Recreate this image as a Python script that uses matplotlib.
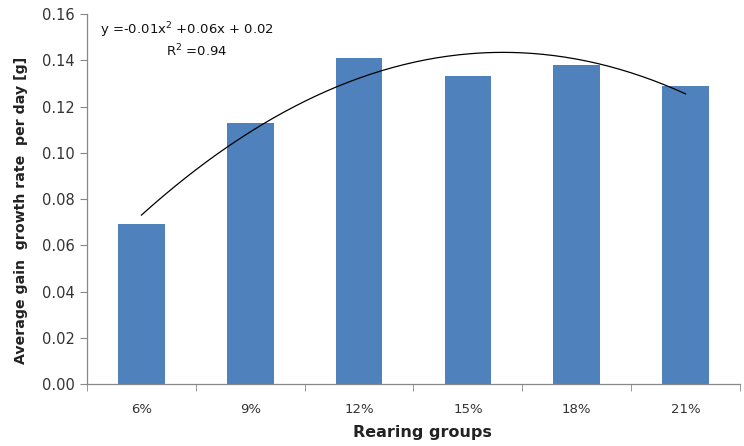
import matplotlib
matplotlib.use("Agg")
import matplotlib.pyplot as plt
import numpy as np

categories = ["6%", "9%", "12%", "15%", "18%", "21%"]
values = [0.069, 0.113, 0.141, 0.133, 0.138, 0.129]
yticks = [0.00, 0.02, 0.04, 0.06, 0.08, 0.10, 0.12, 0.14, 0.16]

plt.rcParams['font.family'] = ['DejaVu Sans']

fig = plt.figure(figsize=(7.44, 4.46), dpi=100)
ax = fig.add_axes([87/744, 62/446, 653/744, 370/446])

x = np.arange(1, len(categories) + 1)
ax.bar(x, values, width=0.43, color="#4F81BD", zorder=2)

# Excel-style polynomial trendline (order 2) fitted to the bar values
coef = np.polyfit(x, values, 2)
xs = np.linspace(1, len(categories), 200)
ax.plot(xs, np.polyval(coef, xs), color="black", lw=0.9, zorder=3)

ax.set_xlim(0.5, len(categories) + 0.5)
ax.set_ylim(0, 0.16)
ax.set_yticks(yticks)
ax.set_yticklabels([f"{v:.2f}" for v in yticks], fontsize=10.5, color="#333333")
ax.set_xticks(x)
ax.set_xticklabels(categories, fontsize=9.5, color="#333333")
ax.set_xticks(np.arange(0.5, len(categories) + 1, 1), minor=True)
ax.tick_params(axis='x', which='major', length=0, pad=14)
ax.tick_params(axis='x', which='minor', length=5, color="#888888", direction='out')
ax.tick_params(axis='y', length=5, color="#888888", direction='out', pad=4)

for s in ["top", "right"]:
    ax.spines[s].set_visible(False)
for s in ["left", "bottom"]:
    ax.spines[s].set_color("#888888")
    ax.spines[s].set_linewidth(0.9)

ax.set_xlabel("Rearing groups", fontsize=11.5, fontweight="bold", color="#222222")
ax.set_ylabel("Average gain  growth rate  per day [g]", fontsize=10.2, fontweight="bold",
              color="#222222")
ax.xaxis.set_label_coords(0.513, -0.112)
ax.yaxis.set_label_coords(-0.090, 0.47)

ax.text(0.62, 0.153, r"y =-0.01x$^2$ +0.06x + 0.02", fontsize=9.5, color="#111111", va="center")
ax.text(1.23, 0.144, r"R$^2$ =0.94", fontsize=9.5, color="#111111", va="center")

fig.savefig("out.png", dpi=100)
